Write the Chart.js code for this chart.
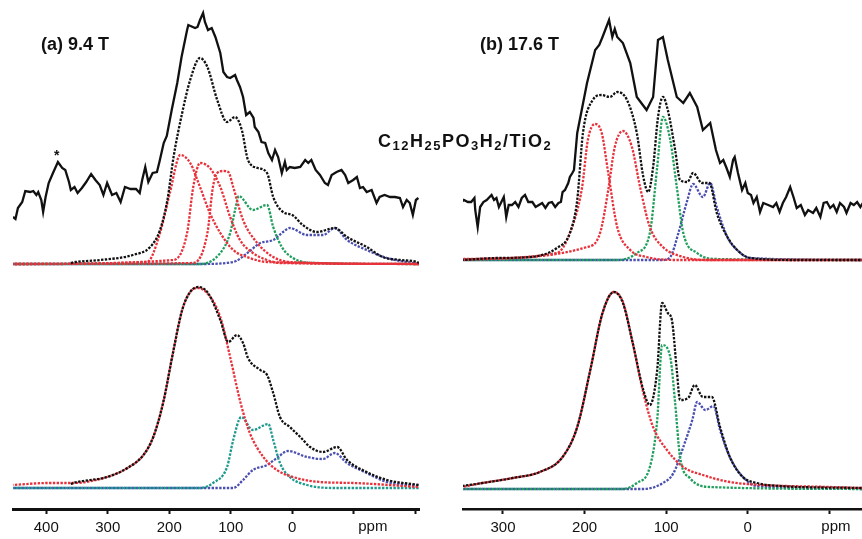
<!DOCTYPE html>
<html>
<head>
<meta charset="utf-8">
<script src="https://cdn.jsdelivr.net/npm/chart.js@4.4.1/dist/chart.umd.min.js"></script>
<style>
body { margin: 0; width: 862px; height: 539px; overflow: hidden; background: #fff; position: relative; font-family: Arial, "Liberation Sans", sans-serif; }
canvas { position: absolute; top: 0; }
#left { left: 0; }
#right { left: 430px; }
.label { position: absolute; font-weight: bold; font-size: 18px; line-height: 18px; color: #111; white-space: nowrap; }
.formula { letter-spacing: 1.5px; }
.formula span { font-size: 13px; position: relative; top: 3px; }
.star { position: absolute; font-size: 14px; line-height: 14px; font-weight: bold; color: #111; }
</style>
</head>
<body>
<canvas id="left" width="430" height="542"></canvas>
<canvas id="right" width="432" height="542"></canvas>
<div class="label" style="left:41px;top:35px">(a) 9.4 T</div>
<div class="label" style="left:480px;top:35px">(b) 17.6 T</div>
<div class="label formula" style="left:378px;top:132px">C<span>12</span>H<span>25</span>PO<span>3</span>H<span>2</span>/TiO<span>2</span></div>
<div class="star" style="left:54px;top:148px">*</div>
<script>

// axis ticks (ppm)
const aTicks = [400, 300, 200, 100, 0, -100, -200];
const aTickLabels = ["400", "300", "200", "100", "0", "", ""];
const bTicks = [300, 200, 100, 0, -100];
const bTickLabels = ["300", "200", "100", "0", ""];

// (a) 9.4 T, top: experimental + fit components
const aExpPpm = [454, 450, 446, 439, 434, 426, 421, 416, 413, 408, 405, 401, 396, 389, 381, 374, 369, 363, 360, 354, 349, 342, 335, 327, 320, 313, 307, 301, 293, 286, 279, 272, 263, 254, 248, 244, 239, 234, 227, 220, 216, 209, 204, 196, 187, 180, 171, 169, 158, 154, 150, 145, 142, 137, 131, 125, 117, 112, 106, 101, 93, 90, 85, 80, 75, 69, 63, 61, 55, 50, 44, 39, 33, 28, 23, 17, 12, 9, 4, -4, -13, -21, -26, -31, -38, -45, -53, -58, -64, -72, -80, -86, -91, -99, -105, -110, -115, -121, -129, -137, -142, -150, -159, -167, -175, -180, -186, -191, -196, -201, -205];
const aExp = [-5, -7, 4, 10, 21, 20, 21, 17, 20, 12, 0, 15, 29, 39, 50, 44, 42, 30, 22, 25, 19, 24, 30, 38, 32, 27, 17, 29, 17, 19, 10, 25, 23, 23, 19, 32, 45, 30, 39, 40, 50, 69, 76, 102, 129, 155, 182, 187, 184, 185, 192, 199, 190, 182, 184, 175, 159, 140, 135, 134, 137, 132, 125, 115, 97, 100, 94, 85, 80, 70, 69, 59, 52, 62, 55, 39, 50, 42, 45, 44, 45, 52, 49, 52, 42, 37, 29, 27, 37, 40, 42, 37, 29, 32, 35, 24, 25, 20, 22, 9, 15, 17, 15, 15, 14, 5, 12, 9, -3, 12, 14];

const aFitPpm = [360, 352, 312, 259, 231, 215, 203, 193, 179, 166, 150, 138, 122, 106, 93, 82, 72, 56, 41, 31, 15, 0, -17, -40, -69, -89, -121, -147, -175, -203, -206];
const aFit = [1, 2, 4, 9, 17, 34, 64, 107, 151, 184, 206, 197, 164, 142, 147, 134, 104, 96, 91, 67, 52, 49, 39, 32, 36, 27, 17, 7, 4, 2, 1];

const aRed1Ppm = [454, 236, 215, 199, 182, 166, 150, 134, 117, 96, 69, 41, -206];
const aRed1 = [0, 2, 31, 71, 109, 101, 77, 51, 31, 14, 6, 2, 0];
const aRed2Ppm = [454, 193, 171, 161, 150, 134, 117, 101, 85, 64, 41, 20, -206];
const aRed2 = [0, 4, 31, 77, 101, 96, 77, 47, 24, 11, 4, 1, 0];
const aRed3Ppm = [454, 161, 138, 129, 122, 112, 104, 96, 80, 57, 31, 4, -206];
const aRed3 = [0, 1, 31, 77, 91, 93, 92, 77, 44, 21, 7, 2, 0];
const aGreenPpm = [454, 150, 117, 101, 93, 87, 64, 41, 31, 17, -1, -34, -206];
const aGreen = [0, 0, 11, 31, 54, 68, 54, 59, 37, 17, 6, 1, 0];
const aBluePpm = [454, 150, 96, 73, 52, 31, 15, 4, -24, -50, -69, -89, -121, -154, -206];
const aBlue = [0, 0, 2, 11, 21, 24, 32, 36, 29, 29, 36, 24, 14, 6, 0];

// (a) 9.4 T, bottom: simulation
const cFitPpm = [360, 356, 301, 268, 242, 226, 210, 194, 179, 166, 153, 137, 117, 104, 90, 80, 72, 52, 41, 31, 20, 4, -13, -29, -50, -73, -89, -121, -154, -206];
const cFit = [4, 5, 11, 20, 33, 51, 85, 135, 178, 196, 201, 195, 168, 146, 153, 145, 130, 118, 113, 95, 71, 61, 51, 41, 36, 41, 28, 16, 8, 3];
const cRedPpm = [454, 398, 356, 301, 268, 242, 226, 210, 194, 179, 166, 153, 137, 117, 101, 84, 69, 47, 25, -1, -45, -99, -206];
const cRed = [3, 5, 5, 11, 20, 33, 51, 85, 135, 178, 196, 200, 194, 171, 131, 85, 55, 31, 18, 11, 6, 5, 1];
const cTealPpm = [454, 150, 129, 106, 96, 83, 64, 39, 31, 20, 4, -24, -69, -206];
const cTeal = [0, 0, 5, 21, 48, 71, 58, 64, 48, 25, 11, 3, 0, 0];
const cBluePpm = [454, 96, 80, 64, 41, 25, 7, -24, -50, -69, -89, -121, -154, -206];
const cBlue = [0, 0, 8, 18, 23, 30, 37, 31, 29, 35, 25, 15, 6, 2];

// (b) 17.6 T, top
const bExpPpm = [352, 348, 343, 339, 335, 334, 331, 328, 324, 320, 314, 311, 308, 305, 302, 299, 296, 293, 289, 285, 281, 277, 273, 269, 264, 260, 256, 252, 248, 244, 240, 236, 232, 229, 227, 224, 220, 218, 215, 213, 209, 197, 187, 182, 178, 170, 166, 163, 160, 153, 144, 136, 124, 116, 110, 104, 98, 87, 79, 71, 62, 55, 46, 39, 34, 30, 26, 22, 18, 16, 12, 7, 3, 0, -4, -7, -11, -15, -19, -25, -31, -35, -39, -43, -47, -52, -56, -60, -65, -70, -74, -80, -84, -89, -93, -97, -101, -105, -109, -113, -118, -121, -126, -130, -134, -138, -141];
const bExp = [4, 7, 5, 5, 9, -3, -20, 0, 5, 7, 12, 7, 9, 0, 5, 10, -10, 2, 2, 5, 0, 9, 12, 5, 5, 0, 2, 4, -1, 4, 5, 0, 4, 5, 15, 17, 24, 30, 34, 37, 74, 124, 157, 162, 170, 187, 170, 178, 170, 164, 144, 110, 97, 110, 167, 170, 147, 110, 104, 114, 100, 77, 84, 57, 44, 47, 39, 30, 47, 50, 34, 17, 24, 14, 12, 4, 10, -5, 4, 2, 0, 4, -5, 4, 10, 20, 10, -1, 2, -8, -3, -6, -1, -10, 4, 5, -1, 2, -5, 4, 0, -6, 4, 2, 5, 0, 4];

const bFitPpm = [351, 308, 267, 234, 218, 209, 202, 190, 179, 169, 160, 148, 136, 128, 122, 116, 110, 104, 98, 89, 83, 74, 67, 56, 47, 38, 25, 13, -3, -60, -140];
const bFit = [0, 2, 3, 12, 27, 60, 127, 160, 165, 163, 168, 160, 127, 83, 68, 93, 143, 163, 150, 110, 80, 78, 87, 77, 77, 47, 23, 10, 2, 0, 0];
const bRed1Ppm = [351, 234, 218, 203, 196, 187, 179, 171, 160, 144, 124, 89, -140];
const bRed1 = [1, 7, 27, 73, 120, 136, 127, 87, 33, 10, 3, 0, 0];
const bRed2Ppm = [351, 197, 181, 171, 163, 153, 142, 132, 120, 104, 79, 49, -140];
const bRed2 = [0, 13, 27, 70, 113, 129, 113, 73, 33, 13, 3, 0, 0];
const bGreenPpm = [351, 160, 136, 120, 111, 104, 95, 87, 79, 62, 38, -140];
const bGreen = [0, 0, 7, 27, 93, 143, 120, 73, 27, 7, 1, 0];
const bBluePpm = [351, 104, 95, 85, 74, 67, 55, 46, 38, 25, 13, -3, -140];
const bBlue = [0, 0, 3, 27, 60, 76, 63, 77, 53, 23, 10, 2, 0];

// (b) 17.6 T, bottom
const dFitPpm = [350, 325, 288, 255, 227, 209, 193, 178, 164, 153, 141, 128, 120, 111, 105, 98, 93, 87, 83, 73, 65, 55, 44, 34, 22, 6, -11, -40, -140];
const dFit = [3, 6, 11, 17, 32, 62, 119, 176, 197, 186, 146, 99, 84, 119, 186, 176, 169, 119, 89, 91, 104, 92, 92, 62, 32, 12, 6, 3, 1];
const dRedPpm = [350, 325, 288, 255, 227, 209, 193, 178, 164, 153, 141, 128, 116, 99, 79, 55, 22, -19, -101, -140];
const dRed = [2, 6, 11, 17, 32, 62, 119, 176, 197, 187, 146, 96, 62, 39, 22, 14, 7, 4, 2, 1];
const dGreenPpm = [350, 153, 136, 120, 111, 105, 95, 89, 83, 71, 46, -140];
const dGreen = [0, 0, 6, 22, 69, 144, 132, 86, 32, 11, 2, 0];
const dBluePpm = [350, 128, 104, 91, 79, 68, 62, 52, 42, 34, 22, 6, -11, -140];
const dBlue = [0, 0, 6, 16, 42, 69, 87, 79, 83, 59, 32, 12, 3, 0];

const RED = "#e8313a";
const GREEN = "#1f9f5c";
const TEAL = "#1d9a8e";
const BLUE = "#4a4fb0";
const BLACK = "#111";

function pts(ppm, vals, shift) {
    return ppm.map(function (p, i) {
        return { x: p, y: vals[i] + shift };
    });
}

function solid(ppm, vals, shift) {
    return {
        data: pts(ppm, vals, shift),
        borderColor: BLACK,
        borderWidth: 2.3,
        tension: 0,
        pointRadius: 0
    };
}

function dotted(ppm, vals, shift, color, dashOff) {
    return {
        data: pts(ppm, vals, shift),
        borderColor: color,
        borderWidth: 2.3,
        borderDash: [2.4, 1.4],
        borderDashOffset: dashOff || 0,
        cubicInterpolationMode: "monotone",
        pointRadius: 0
    };
}

// "ppm" unit written under the axis, between ticks
const ppmLabel = {
    id: "ppmLabel",
    afterDraw: function (chart) {
        let xs = chart.scales.x;
        let c = chart.ctx;
        c.save();
        c.font = "15px Arial, 'Liberation Sans', sans-serif";
        c.fillStyle = BLACK;
        c.textAlign = "center";
        c.textBaseline = "top";
        c.fillText("ppm", xs.getPixelForValue(chart.options.plugins.ppmLabel.at), xs.top + 10);
        c.restore();
    }
};

function makeChart(id, min, max, ticks, labels, unitAt, padLeft, padRight, datasets, axisWidth) {
    return new Chart(document.getElementById(id), {
        type: "line",
        data: { datasets: datasets },
        options: {
            responsive: false,
            animation: false,
            devicePixelRatio: 1,
            layout: { padding: { left: padLeft, right: padRight, top: 0, bottom: 0 } },
            plugins: {
                legend: { display: false },
                tooltip: { enabled: false },
                ppmLabel: { at: unitAt }
            },
            scales: {
                x: {
                    type: "linear",
                    reverse: true,
                    min: min,
                    max: max,
                    afterBuildTicks: function (s) {
                        s.ticks = ticks.map(function (v) { return { value: v }; });
                    },
                    ticks: {
                        autoSkip: false,
                        maxRotation: 0,
                        padding: 5,
                        color: BLACK,
                        font: { family: "Arial, 'Liberation Sans', sans-serif", size: 15 },
                        callback: function (v) {
                            return labels[ticks.indexOf(v)];
                        }
                    },
                    grid: {
                        drawOnChartArea: false,
                        drawTicks: true,
                        tickLength: 5,
                        tickWidth: 2,
                        tickColor: BLACK
                    },
                    border: { display: true, color: BLACK, width: axisWidth }
                },
                y: { display: false, min: 0, max: 509 }
            }
        },
        plugins: [ppmLabel]
    });
}

// vertical placement of each trace (chart units = px above axis line)
const aTop = 245, aExpTop = 297, aBottom = 21;
const bTop = 249, bExpTop = 302, bBottom = 20;

makeChart("left", -206, 454, aTicks, aTickLabels, -131, 13, 11, [
    solid(aExpPpm, aExp, aExpTop),
    dotted(aFitPpm, aFit, aTop, BLACK),
    dotted(aRed1Ppm, aRed1, aTop, RED, 1.9),
    dotted(aRed2Ppm, aRed2, aTop, RED, 1.9),
    dotted(aRed3Ppm, aRed3, aTop, RED, 1.9),
    dotted(aGreenPpm, aGreen, aTop, GREEN, 0.9),
    dotted(aBluePpm, aBlue, aTop, BLUE, 2.8),
    dotted(cFitPpm, cFit, aBottom, BLACK),
    dotted(cRedPpm, cRed, aBottom, RED, 1.9),
    dotted(cTealPpm, cTeal, aBottom, TEAL, 0.9),
    dotted(cBluePpm, cBlue, aBottom, BLUE, 2.8)
], 3);

makeChart("right", -140, 349, bTicks, bTickLabels, -108, 33, 0, [
    solid(bExpPpm, bExp, bExpTop),
    dotted(bFitPpm, bFit, bTop, BLACK),
    dotted(bRed1Ppm, bRed1, bTop, RED, 1.9),
    dotted(bRed2Ppm, bRed2, bTop, RED, 1.9),
    dotted(bGreenPpm, bGreen, bTop, GREEN, 0.9),
    dotted(bBluePpm, bBlue, bTop, BLUE, 2.8),
    dotted(dFitPpm, dFit, bBottom, BLACK),
    dotted(dRedPpm, dRed, bBottom, RED, 1.9),
    dotted(dGreenPpm, dGreen, bBottom, GREEN, 0.9),
    dotted(dBluePpm, dBlue, bBottom, BLUE, 2.8)
], 2.5);

</script>
</body>
</html>
